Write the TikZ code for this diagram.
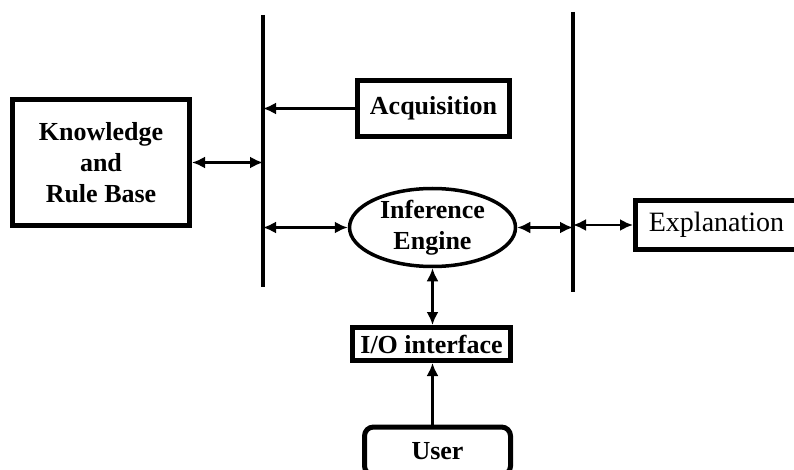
\documentclass[tikz,border=0pt]{standalone}
\usepackage{fontspec}
\setmainfont{Liberation Serif}
\usetikzlibrary{shapes.geometric,arrows.meta}

\tikzset{
  box/.style={draw, line width=5pt, inner sep=0pt, align=center,
    font=\bfseries\fontsize{26}{31}\selectfont},
  bar/.style={line width=4.5pt},
  oneway/.style={line width=2.4pt, -{Latex[length=13pt,width=12pt]}},
  twoway/.style={line width=2.4pt,
    {Latex[length=13pt,width=12pt]}-{Latex[length=13pt,width=12pt]}}
}

\begin{document}
\begin{tikzpicture}[x=1pt, y=-1pt]
  \useasboundingbox (0,0) rectangle (794,470);
  \clip (0,0) rectangle (794,470);

  % the two buses
  \draw[bar] (263,15) coordinate (busL) -- (263,287);
  \draw[bar] (573,12) coordinate (busR) -- (573,292);

  % blocks
  \node[box, minimum width=177, minimum height=126] (kb) at (101,162.5)
    {Knowledge\\and\\Rule Base};
  \node[box, minimum width=152, minimum height=56] (acq) at (433.5,108.5)
    {Acquisition};
  \node[box, ellipse, line width=3.5pt, minimum width=166, minimum height=78] (ie)
    at (432.5,227.5) {Inference\\Engine};
  \node[box, font=\fontsize{28}{32}\selectfont, minimum width=162, minimum height=49]
    (expl) at (716.5,225) {Explanation};
  \node[box, minimum width=158, minimum height=33] (io) at (431.5,344)
    {I/O interface};
  \node[box, rounded corners=9pt, minimum width=146, minimum height=48] (user)
    at (437.5,451) {User};

  % connectors
  \draw[twoway] (kb.east) -- (kb.east -| busL);
  \draw[oneway] (acq.west) -- (acq.west -| busL);
  \draw[twoway] (ie.west -| busL) -- (ie.west);
  \draw[twoway] (ie.east) -- (ie.east -| busR);
  \draw[twoway] (expl.west -| busR) -- (expl.west);
  \draw[twoway] (ie.south) -- (ie.south |- io.north);
  \draw[oneway] (ie.south |- user.north) -- (ie.south |- io.south);
\end{tikzpicture}
\end{document}
